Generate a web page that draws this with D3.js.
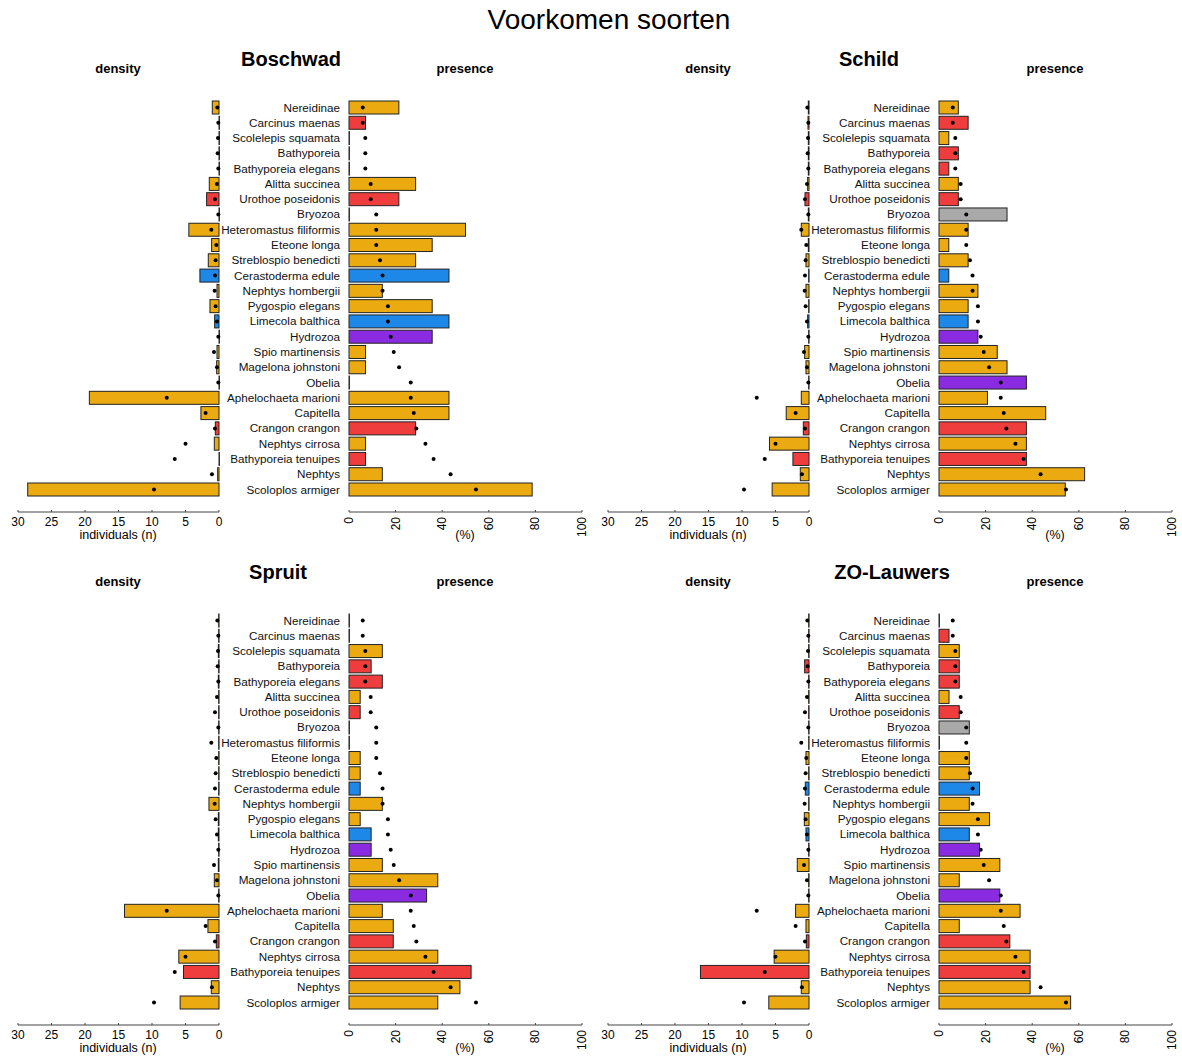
<!DOCTYPE html>
<html lang="en">
<head>
  <meta charset="UTF-8">
  <title>Voorkomen soorten</title>
  <style>
    html, body { margin: 0; padding: 0; background: #fff; }
    svg { display: block; font-family: "Liberation Sans", Arial, sans-serif; }
  </style>
</head>
<body>
  <svg id="chart"></svg>
  <script src="https://d3js.org/d3.v7.min.js"></script>
  <script>
    // species in plot order (top to bottom)
    const species = ['Nereidinae', 'Carcinus maenas', 'Scolelepis squamata', 'Bathyporeia',
      'Bathyporeia elegans', 'Alitta succinea', 'Urothoe poseidonis', 'Bryozoa',
      'Heteromastus filiformis', 'Eteone longa', 'Streblospio benedicti', 'Cerastoderma edule',
      'Nephtys hombergii', 'Pygospio elegans', 'Limecola balthica', 'Hydrozoa',
      'Spio martinensis', 'Magelona johnstoni', 'Obelia', 'Aphelochaeta marioni',
      'Capitella', 'Crangon crangon', 'Nephtys cirrosa', 'Bathyporeia tenuipes',
      'Nephtys', 'Scoloplos armiger']
    const groups = ['o', 'r', 'o', 'r', 'r', 'o', 'r', 'g', 'o', 'o', 'o', 'b', 'o', 'o', 'b', 'p',
      'o', 'o', 'p', 'o', 'o', 'r', 'o', 'r', 'o', 'o']

    // reference values (dots), same in every panel
    const refDensity = [0.25, 0.1, 0.15, 0.2, 0.1, 0.3, 0.6, 0.1, 1.15, 0.4, 0.5, 0.6, 0.65,
      0.5, 0.3, 0.1, 0.75, 0.3, 0.1, 7.8, 2.0, 0.6, 5.0, 6.6, 1.05, 9.7]
    const refPresence = [5.9, 5.9, 7.0, 7.0, 7.0, 9.3, 9.3, 11.7, 11.7, 11.7, 13.3, 14.4, 14.4,
      16.7, 16.7, 17.9, 19.2, 21.5, 26.5, 26.5, 27.8, 28.9, 32.8, 36.3, 43.6, 54.5]

    const sites = ['Boschwad', 'Schild', 'Spruit', 'ZO-Lauwers']

    const densBoschwad = [1.0, 0, 0, 0, 0, 1.45, 1.85, 0, 4.5, 1.1, 1.6, 2.85, 0.3, 1.35, 0.65, 0,
      0.3, 0.35, 0, 19.35, 2.7, 0.55, 0.7, 0, 0.2, 28.55]
    const presBoschwad = [21.4, 7.1, 0, 0, 0, 28.6, 21.4, 0, 50, 35.7, 28.6, 42.9, 14.3, 35.7, 42.9,
      35.7, 7.1, 7.1, 0, 42.9, 42.9, 28.6, 7.1, 7.1, 14.3, 78.6]

    const densSchild = [0.1, 0.15, 0.1, 0.1, 0.1, 0.2, 0.6, 0.1, 1.15, 0.1, 0.45, 0.05, 0.45, 0.05,
      0.2, 0.05, 0.65, 0.45, 0.05, 1.15, 3.4, 0.85, 5.9, 2.4, 1.3, 5.5]
    const presSchild = [8.3, 12.5, 4.2, 8.3, 4.2, 8.3, 8.3, 29.2, 12.5, 4.2, 12.5, 4.2, 16.7, 12.5,
      12.5, 16.7, 25.0, 29.2, 37.5, 20.8, 45.8, 37.5, 37.5, 37.5, 62.5, 54.2]

    const densSpruit = [0.05, 0.05, 0.1, 0.05, 0.1, 0.05, 0.05, 0.05, 0.05, 0.05, 0.05, 0.05, 1.5,
      0.1, 0.1, 0.05, 0.1, 0.7, 0.05, 14.1, 1.65, 0.4, 6.0, 5.3, 1.15, 5.8]
    const presSpruit = [0, 0, 14.3, 9.5, 14.3, 4.8, 4.8, 0, 0, 4.8, 4.8, 4.8, 14.3, 4.8, 9.5, 9.5,
      14.3, 38.1, 33.3, 14.3, 19.0, 19.0, 38.1, 52.4, 47.6, 38.1]

    const densZOLauwers = [0.05, 0.05, 0.05, 0.65, 0.05, 0.05, 0.05, 0.05, 0.05, 0.45, 0.05, 0.55,
      0.05, 0.7, 0.45, 0.05, 1.75, 0.05, 0.05, 2.0, 0.45, 0.4, 5.2, 16.2, 1.15, 6.0]
    const presZOLauwers = [0, 4.3, 8.7, 8.7, 8.7, 4.3, 8.7, 13.0, 0, 13.0, 13.0, 17.4, 13.0, 21.7,
      13.0, 17.4, 26.1, 8.7, 26.1, 34.8, 8.7, 30.4, 39.1, 39.1, 39.1, 56.5]

    const densityTicks = [30, 25, 20, 15, 10, 5, 0]
    const presenceTicks = [0, 20, 40, 60, 80, 100]

    const siteData = [
      {name: sites[0], dens: densBoschwad, pres: presBoschwad, dx: 0, dy: 0, tx: 291},
      {name: sites[1], dens: densSchild, pres: presSchild, dx: 590, dy: 0, tx: 279},
      {name: sites[2], dens: densSpruit, pres: presSpruit, dx: 0, dy: 513, tx: 278},
      {name: sites[3], dens: densZOLauwers, pres: presZOLauwers, dx: 590, dy: 513, tx: 302}
    ]

    const colors = {o: '#ebab10', r: '#ef3d3d', b: '#1e88e8', p: '#8a2be2', g: '#a9a9a9'}

    const svg = d3.select('#chart').attr('width', 1182).attr('height', 1056)

    svg.append('text')
      .attr('x', 609).attr('y', 29)
      .attr('text-anchor', 'middle')
      .attr('font-size', 28)
      .text('Voorkomen soorten')

    const y = d3.scalePoint().domain(species).range([107.5, 489.5])
    const xDens = d3.scaleLinear().domain([30, 0]).range([18, 219])
    const xPres = d3.scaleLinear().domain([0, 100]).range([349, 582])
    const barH = 13

    siteData.forEach(site => {
      const g = svg.append('g').attr('transform', `translate(${site.dx},${site.dy})`)

      g.append('text').attr('x', site.tx).attr('y', 66)
        .attr('text-anchor', 'middle').attr('font-size', 20).attr('font-weight', 'bold')
        .text(site.name)
      g.append('text').attr('x', 118).attr('y', 73)
        .attr('text-anchor', 'middle').attr('font-size', 13).attr('font-weight', 'bold')
        .text('density')
      g.append('text').attr('x', 465).attr('y', 73)
        .attr('text-anchor', 'middle').attr('font-size', 13).attr('font-weight', 'bold')
        .text('presence')

      // density bars (growing to the left)
      g.selectAll('rect.dens')
        .data(species)
        .join('rect')
        .attr('class', 'dens')
        .attr('x', (d, i) => xDens(site.dens[i]))
        .attr('y', d => y(d) - barH / 2)
        .attr('width', (d, i) => Math.max(xDens(0) - xDens(site.dens[i]), 0.4))
        .attr('height', barH)
        .attr('fill', (d, i) => colors[groups[i]])
        .attr('stroke', '#222')
        .attr('stroke-width', 1)

      g.selectAll('circle.dens')
        .data(species)
        .join('circle')
        .attr('class', 'dens')
        .attr('cx', (d, i) => xDens(refDensity[i]))
        .attr('cy', d => y(d))
        .attr('r', 2)
        .attr('fill', '#000')

      // presence bars
      g.selectAll('rect.pres')
        .data(species)
        .join('rect')
        .attr('class', 'pres')
        .attr('x', xPres(0))
        .attr('y', d => y(d) - barH / 2)
        .attr('width', (d, i) => Math.max(xPres(site.pres[i]) - xPres(0), 0.4))
        .attr('height', barH)
        .attr('fill', (d, i) => colors[groups[i]])
        .attr('stroke', '#222')
        .attr('stroke-width', 1)

      g.selectAll('circle.pres')
        .data(species)
        .join('circle')
        .attr('class', 'pres')
        .attr('cx', (d, i) => xPres(refPresence[i]))
        .attr('cy', d => y(d))
        .attr('r', 2)
        .attr('fill', '#000')

      // species labels
      g.selectAll('text.sp')
        .data(species)
        .join('text')
        .attr('class', 'sp')
        .attr('x', 340)
        .attr('y', d => y(d) + 4)
        .attr('text-anchor', 'end')
        .attr('font-size', 11.7)
        .attr('fill', '#111')
        .text(d => d)

      // density axis
      const axD = g.append('g').attr('transform', 'translate(0,512)')
      axD.append('line').attr('x1', xDens(30)).attr('x2', xDens(0))
        .attr('stroke', '#444')
      axD.selectAll('line.tk').data(densityTicks).join('line')
        .attr('class', 'tk')
        .attr('x1', d => xDens(d)).attr('x2', d => xDens(d))
        .attr('y1', -2).attr('y2', 0).attr('stroke', '#444')
      axD.selectAll('text').data(densityTicks).join('text')
        .attr('x', d => xDens(d)).attr('y', 14)
        .attr('text-anchor', 'middle').attr('font-size', 12)
        .text(d => d)
      g.append('text').attr('x', 118).attr('y', 539)
        .attr('text-anchor', 'middle').attr('font-size', 12.5)
        .text('individuals (n)')

      // presence axis
      const axP = g.append('g').attr('transform', 'translate(0,512)')
      axP.append('line').attr('x1', xPres(0)).attr('x2', xPres(100))
        .attr('stroke', '#444')
      axP.selectAll('line.tk').data(presenceTicks).join('line')
        .attr('class', 'tk')
        .attr('x1', d => xPres(d)).attr('x2', d => xPres(d))
        .attr('y1', -2).attr('y2', 0).attr('stroke', '#444')
      axP.selectAll('text').data(presenceTicks).join('text')
        .attr('transform', d => `translate(${xPres(d) + 4},5) rotate(-90)`)
        .attr('text-anchor', 'end').attr('font-size', 12)
        .text(d => d)
      g.append('text').attr('x', 465).attr('y', 539)
        .attr('text-anchor', 'middle').attr('font-size', 12.5)
        .text('(%)')
    })
  </script>
</body>
</html>
